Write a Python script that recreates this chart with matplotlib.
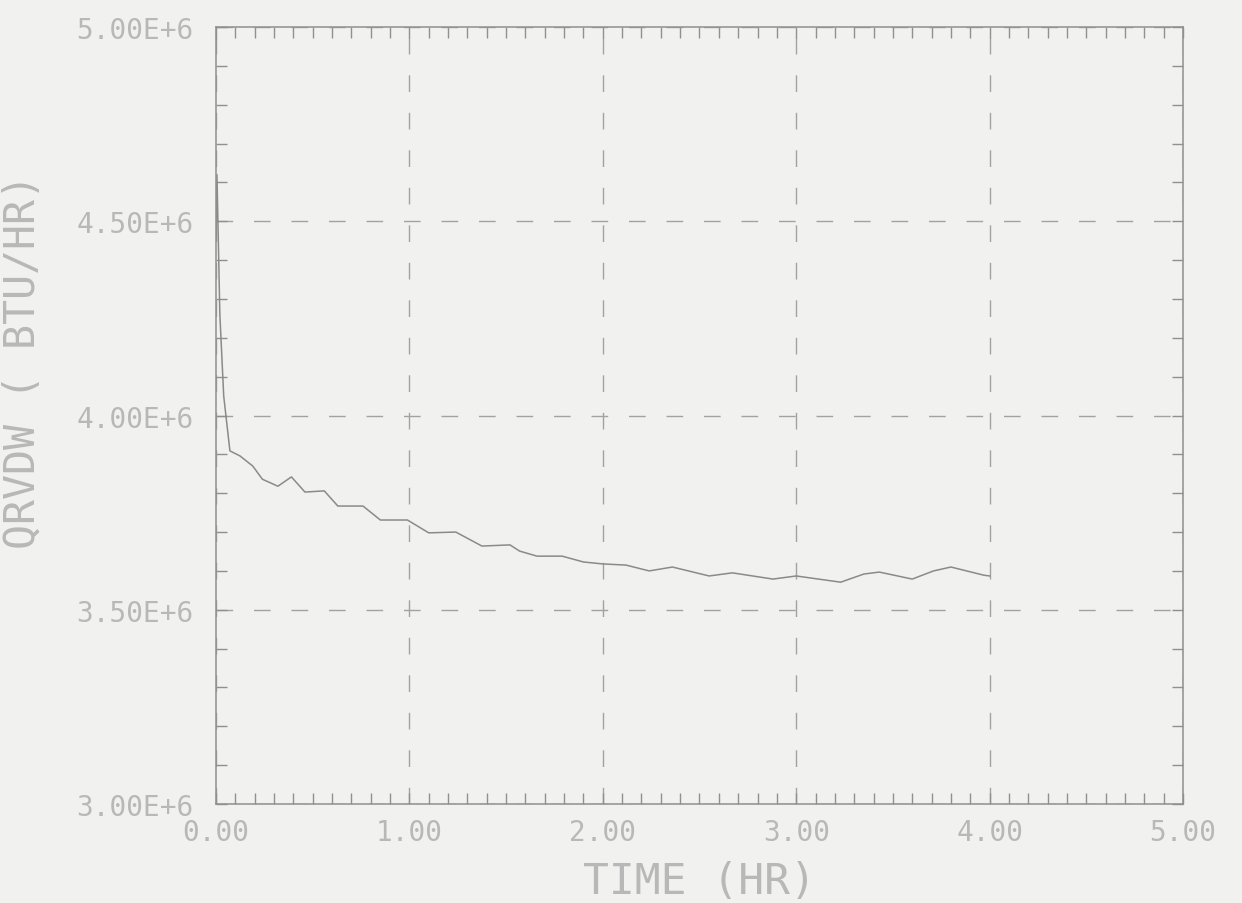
import matplotlib
matplotlib.use("Agg")
import matplotlib.pyplot as plt
from matplotlib.ticker import MultipleLocator, FixedLocator, FixedFormatter

# QRVDW vs time
time_hr = [0.0, 0.005, 0.01, 0.02, 0.04, 0.072, 0.124, 0.19, 0.24, 0.32, 0.39,
           0.46, 0.56, 0.63, 0.76, 0.85, 0.99, 1.10, 1.24, 1.375, 1.52, 1.57,
           1.66, 1.79, 1.90, 2.00, 2.12, 2.24, 2.36, 2.55, 2.67, 2.88, 3.00,
           3.23, 3.35, 3.43, 3.60, 3.71, 3.80, 3.97, 4.00]
qrvdw = [4.45e6, 4.62e6, 4.50e6, 4.26e6, 4.05e6, 3.909e6, 3.896e6, 3.87e6,
         3.836e6, 3.818e6, 3.842e6, 3.803e6, 3.806e6, 3.767e6, 3.767e6,
         3.731e6, 3.731e6, 3.698e6, 3.700e6, 3.664e6, 3.667e6, 3.651e6,
         3.638e6, 3.638e6, 3.623e6, 3.618e6, 3.615e6, 3.600e6, 3.610e6,
         3.587e6, 3.595e6, 3.579e6, 3.587e6, 3.571e6, 3.592e6, 3.597e6,
         3.579e6, 3.600e6, 3.610e6, 3.589e6, 3.587e6]

x_ticks = [0, 1, 2, 3, 4, 5]
x_ticklabels = ["0.00", "1.00", "2.00", "3.00", "4.00", "5.00"]
y_ticks = [3.0e6, 3.5e6, 4.0e6, 4.5e6, 5.0e6]
y_ticklabels = ["3.00E+6", "3.50E+6", "4.00E+6", "4.50E+6", "5.00E+6"]

paper = "#f1f1ef"
ink = "#909090"
text_col = "#b8b8b8"
mono = "DejaVu Sans Mono"

fig = plt.figure(figsize=(12.42, 9.04), dpi=100, facecolor=paper)
ax = fig.add_axes([0.1739, 0.1095, 0.7786, 0.8595], facecolor=paper)

ax.plot(time_hr, qrvdw, color="#8a8a8a", linewidth=1.1)

ax.set_xlim(0, 5)
ax.set_ylim(3.0e6, 5.0e6)

ax.xaxis.set_major_locator(FixedLocator(x_ticks))
ax.xaxis.set_major_formatter(FixedFormatter(x_ticklabels))
ax.yaxis.set_major_locator(FixedLocator(y_ticks))
ax.yaxis.set_major_formatter(FixedFormatter(y_ticklabels))
ax.xaxis.set_minor_locator(MultipleLocator(0.1))
ax.yaxis.set_minor_locator(MultipleLocator(0.1e6))

ax.tick_params(which="both", direction="in", top=True, right=True,
               color=ink, width=1.0, length=8)
ax.tick_params(axis="x", which="major", pad=10, labelsize=20, labelcolor=text_col)
ax.tick_params(axis="y", which="major", pad=16, labelsize=20, labelcolor=text_col)
for lbl in ax.get_xticklabels() + ax.get_yticklabels():
    lbl.set_family(mono)

ax.grid(True, which="major", color="#a2a2a2", linewidth=1.0,
        linestyle=(0, (12, 15)))

for sp in ax.spines.values():
    sp.set_color(ink)
    sp.set_linewidth(1.1)

ax.set_xlabel("TIME (HR)", fontsize=31, color=text_col, family=mono, labelpad=10)
fig.text(0.018, 0.60, "QRVDW ( BTU/HR)", rotation=90, fontsize=30,
         color=text_col, family=mono, ha="center", va="center")

fig.savefig("out.png", dpi=100, facecolor=paper)
